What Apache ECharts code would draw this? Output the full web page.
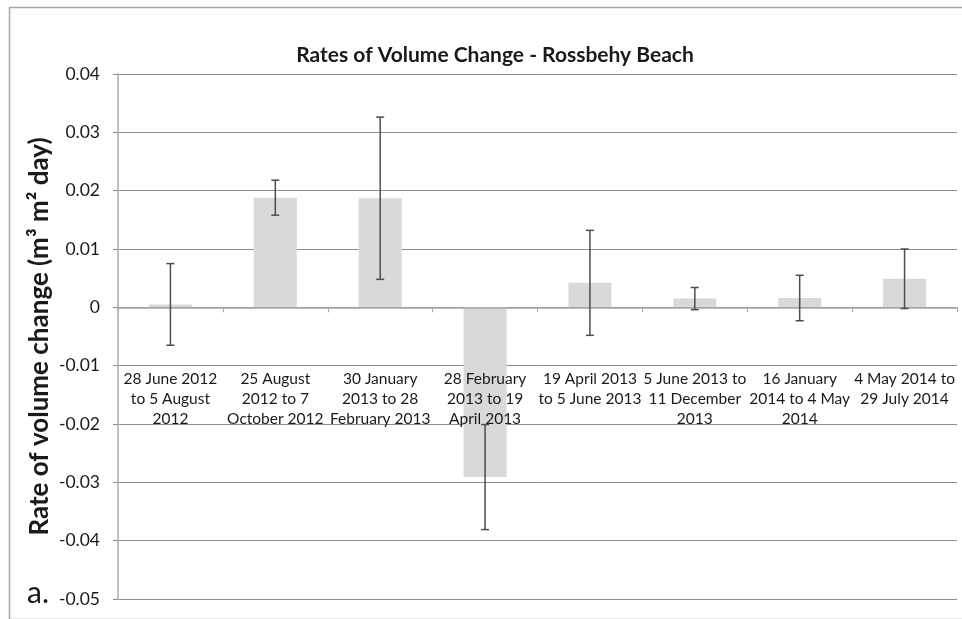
<!DOCTYPE html>
<html>
<head>
<meta charset="utf-8">
<style>
  html, body { margin: 0; padding: 0; background: #fff; }
  #chart { width: 962px; height: 619px; }
</style>
<script src="https://cdn.jsdelivr.net/npm/echarts@6/dist/echarts.min.js"></script>
</head>
<body>
<div id="chart"></div>
<script>
// Survey intervals (label lines broken where the printed label wraps)
const periods = [
  '28 June 2012\nto 5 August\n2012',
  '25 August\n2012 to 7\nOctober 2012',
  '30 January\n2013 to 28\nFebruary 2013',
  '28 February\n2013 to 19\nApril 2013',
  '19 April 2013\nto 5 June 2013',
  '5 June 2013 to\n11 December\n2013',
  '16 January\n2014 to 4 May\n2014',
  '4 May 2014 to\n29 July 2014'
];

// Mean rate of volume change (m3 m-2 day-1)
const rates = [0.0005, 0.0188, 0.0187, -0.0291, 0.0042, 0.0015, 0.0016, 0.0049];

// Error bar half-widths
const errors = [0.0070, 0.0030, 0.0139, 0.0090, 0.0090, 0.0019, 0.0039, 0.0051];

// Value axis ticks
const yMin = -0.05, yMax = 0.04, yStep = 0.01;

const FONT = 'Lato, "Open Sans", sans-serif';

const chart = echarts.init(document.getElementById('chart'), null, { renderer: 'canvas' });

const errorData = rates.map((v, i) => [i, v - errors[i], v + errors[i]]);

chart.setOption({
  backgroundColor: '#ffffff',
  animation: false,
  title: {
    text: 'Rates of Volume Change - Rossbehy Beach',
    left: 490,
    top: 40,
    textAlign: 'center',
    textStyle: { fontFamily: FONT, fontWeight: 'bold', fontSize: 21, color: '#1a1a1a' }
  },
  grid: { left: 118, right: 5, top: 74, bottom: 20, containLabel: false, outerBoundsMode: 'none' },
  xAxis: {
    type: 'category',
    data: periods,
    z: 3,
    axisLine: { onZero: true, lineStyle: { color: '#a6a6a6', width: 1.5 } },
    axisTick: { show: true, length: 5, alignWithLabel: false, lineStyle: { color: '#a6a6a6' } },
    axisLabel: {
      interval: 0,
      // category labels sit just under the -0.01 gridline
      margin: -230,
      fontFamily: FONT,
      fontSize: 15.5,
      lineHeight: 20,
      color: '#1a1a1a'
    }
  },
  yAxis: {
    type: 'value',
    min: yMin,
    max: yMax,
    interval: yStep,
    name: 'Rate of volume change (m\u00B3 m\u00B2 day)',
    nameLocation: 'middle',
    nameGap: 65,
    nameMoveOverlap: false,
    nameTextStyle: { fontFamily: FONT, fontWeight: 'bold', fontSize: 26, color: '#1a1a1a' },
    axisLine: { show: true, lineStyle: { color: '#bfbfbf', width: 2 } },
    axisTick: { show: true, length: 5, lineStyle: { color: '#8c8c8c' } },
    axisLabel: {
      margin: 18,
      fontFamily: FONT,
      fontSize: 17.5,
      color: '#1a1a1a',
      formatter: v => (Math.abs(v) < 1e-9 ? '0' : v.toFixed(2))
    },
    splitLine: { show: true, lineStyle: { color: '#8c8c8c', width: 1 } }
  },
  graphic: [
    {
      type: 'rect',
      left: 7, top: 5,
      shape: { width: 962, height: 612 },
      style: { fill: 'none', stroke: '#a6a6a6', lineWidth: 1.5 },
      silent: true
    },
    {
      type: 'text',
      left: 27, top: 578,
      style: { text: 'a.', font: '30px ' + FONT, fill: '#1a1a1a' }
    }
  ],
  series: [
    {
      type: 'bar',
      data: rates,
      barWidth: 43,
      itemStyle: { color: '#d9d9d9' }
    },
    {
      type: 'custom',
      data: errorData,
      z: 5,
      renderItem: function (params, api) {
        const x = api.value(0);
        const lo = api.coord([x, api.value(1)]);
        const hi = api.coord([x, api.value(2)]);
        const cap = 4;
        const style = { stroke: '#4d4d4d', lineWidth: 1.5 };
        return {
          type: 'group',
          children: [
            { type: 'line', shape: { x1: hi[0], y1: hi[1], x2: lo[0], y2: lo[1] }, style },
            { type: 'line', shape: { x1: hi[0] - cap, y1: hi[1], x2: hi[0] + cap, y2: hi[1] }, style },
            { type: 'line', shape: { x1: lo[0] - cap, y1: lo[1], x2: lo[0] + cap, y2: lo[1] }, style }
          ]
        };
      }
    }
  ]
});
</script>
</body>
</html>
